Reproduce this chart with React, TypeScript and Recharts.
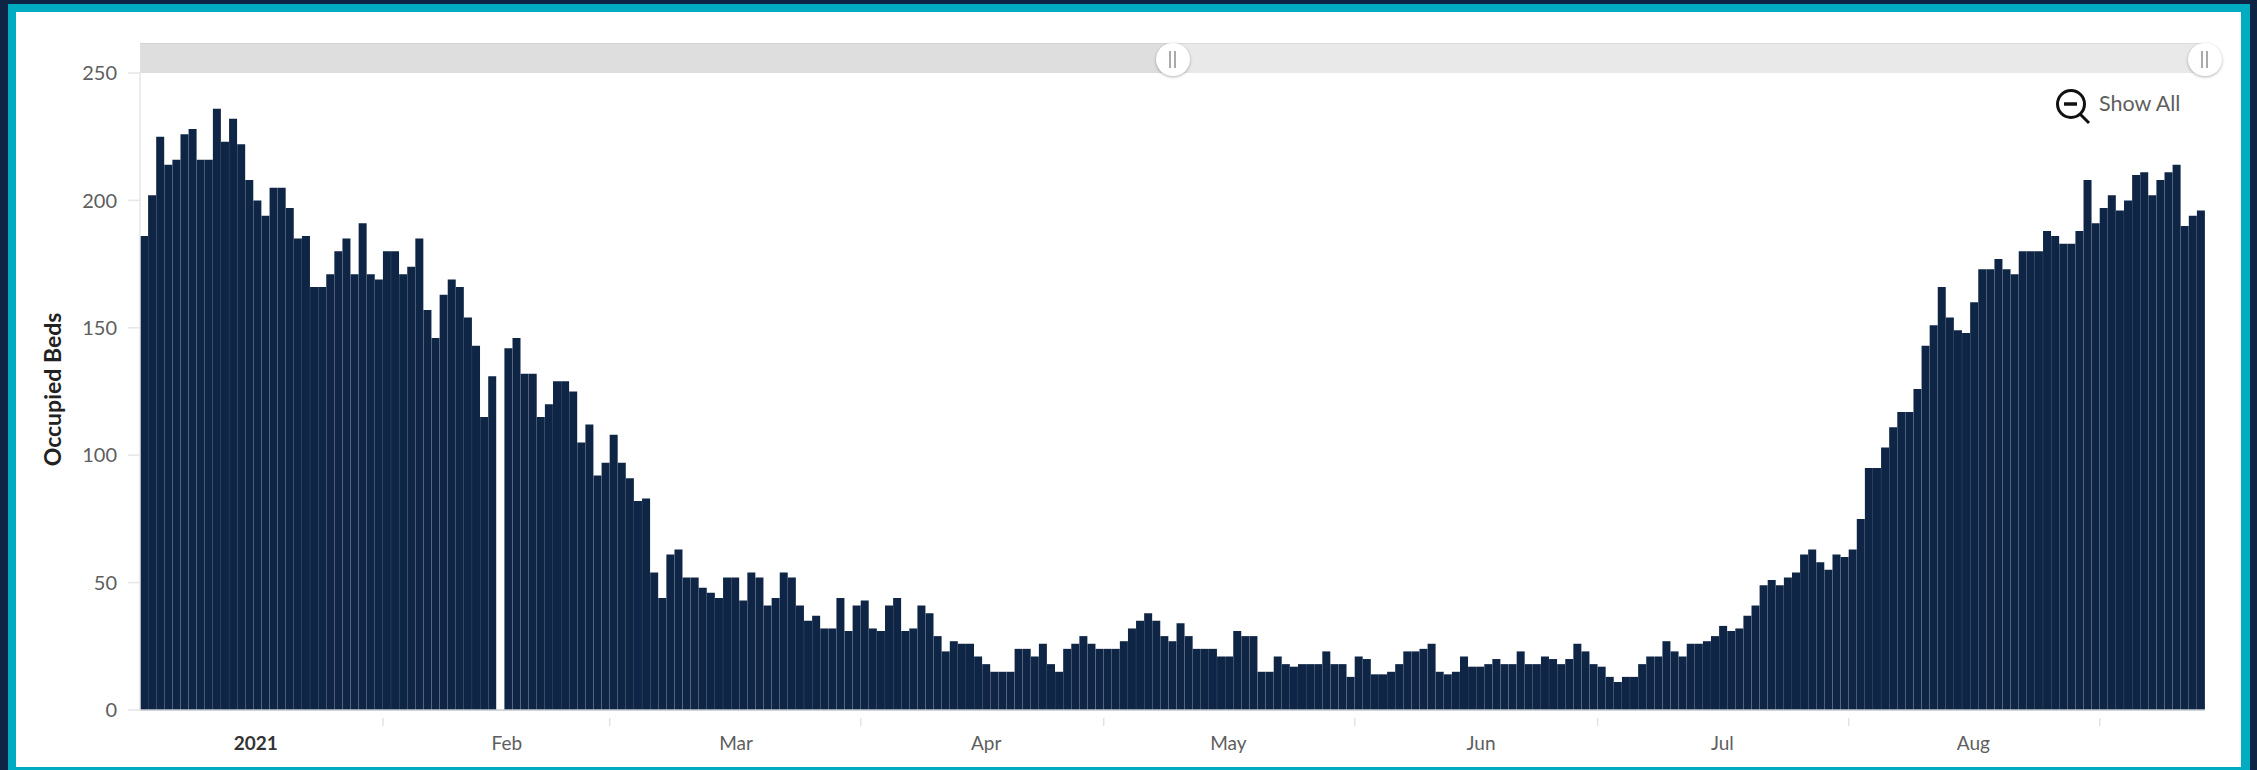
import React from 'react';
import { BarChart, Bar, XAxis, YAxis } from 'recharts';

// daily occupied beds, first bar is 2 Jan 2021 (null = no report that day)
const occupiedBeds = [
  186, 202, 225, 214, 216, 226, 228, 216, 216, 236,
  223, 232, 222, 208, 200, 194, 205, 205, 197, 185,
  186, 166, 166, 171, 180, 185, 171, 191, 171, 169,
  180, 180, 171, 174, 185, 157, 146, 163, 169, 166,
  154, 143, 115, 131, null, 142, 146, 132, 132, 115,
  120, 129, 129, 125, 105, 112, 92, 97, 108, 97,
  91, 82, 83, 54, 44, 61, 63, 52, 52, 48,
  46, 44, 52, 52, 43, 54, 52, 41, 44, 54,
  52, 41, 35, 37, 32, 32, 44, 31, 41, 43,
  32, 31, 41, 44, 31, 32, 41, 38, 29, 23,
  27, 26, 26, 21, 18, 15, 15, 15, 24, 24,
  21, 26, 18, 15, 24, 26, 29, 26, 24, 24,
  24, 27, 32, 35, 38, 35, 29, 27, 34, 29,
  24, 24, 24, 21, 21, 31, 29, 29, 15, 15,
  21, 18, 17, 18, 18, 18, 23, 18, 18, 13,
  21, 20, 14, 14, 15, 18, 23, 23, 24, 26,
  15, 14, 15, 21, 17, 17, 18, 20, 18, 18,
  23, 18, 18, 21, 20, 18, 20, 26, 23, 18,
  17, 13, 11, 13, 13, 18, 21, 21, 27, 23,
  21, 26, 26, 27, 29, 33, 31, 32, 37, 41,
  49, 51, 49, 52, 54, 61, 63, 58, 55, 61,
  60, 63, 75, 95, 95, 103, 111, 117, 117, 126,
  143, 151, 166, 154, 149, 148, 160, 173, 173, 177,
  173, 171, 180, 180, 180, 188, 186, 183, 183, 188,
  208, 191, 197, 202, 196, 200, 210, 211, 202, 208,
  211, 214, 190, 194, 196,
];

const yTicks = [0, 50, 100, 150, 200, 250];
const monthStarts = [30, 58, 89, 119, 150, 180, 211, 242];
const monthLabels = ['2021', 'Feb', 'Mar', 'Apr', 'May', 'Jun', 'Jul', 'Aug'];
const monthLabelDays = [14.3, 45.3, 73.6, 104.5, 134.4, 165.6, 195.4, 226.4];

const data = occupiedBeds.map((beds, i) => ({ day: i + 0.5, beds }));

const NAVY = '#0f2545';
const FONT = 'Lato, sans-serif';

function MonthTick({ x, y, payload }: any) {
  const labelAt = monthLabelDays.indexOf(payload.value);
  if (labelAt < 0) {
    return <line x1={x} x2={x} y1={y} y2={y + 8} stroke="#e2e2e2" strokeWidth={1.5} />;
  }
  const label = monthLabels[labelAt];
  return (
    <text
      x={x}
      y={y + 32}
      textAnchor="middle"
      fontFamily={FONT}
      fontSize={19}
      fontWeight={label === '2021' ? 700 : 400}
      fill={label === '2021' ? '#333' : '#5e5e5e'}
    >
      {label}
    </text>
  );
}

function Handle({ left }: { left: number }) {
  return (
    <div
      style={{
        position: 'absolute',
        left: left - 17,
        top: 43,
        width: 34,
        height: 33,
        borderRadius: 17,
        background: '#fff',
        boxShadow: '0 1px 3px rgba(0,0,0,0.3)',
      }}
    >
      <div style={{ position: 'absolute', left: 13, top: 8, width: 1.5, height: 17, background: '#aaa' }} />
      <div style={{ position: 'absolute', left: 18, top: 8, width: 1.5, height: 17, background: '#aaa' }} />
    </div>
  );
}

export default function App() {
  return (
    <div style={{ position: 'absolute', left: 0, top: 0, width: 2257, height: 770, background: NAVY, overflow: 'hidden' }}>
      <div style={{ position: 'absolute', left: 8, top: 4, width: 2242, height: 766, background: '#00acc1' }} />
      <div style={{ position: 'absolute', left: 16, top: 12, width: 2225, height: 755, background: '#fff' }} />

      <div style={{ position: 'absolute', left: 0, top: 0 }}>
        <BarChart
          width={2257}
          height={770}
          data={data}
          margin={{ top: 73, right: 52, bottom: 0, left: 40 }}
        >
          <XAxis
            type="number"
            dataKey="day"
            domain={[0, 255]}
            ticks={[...monthStarts, ...monthLabelDays]}
            interval={0}
            height={60}
            axisLine={{ stroke: '#c4c8cf', strokeWidth: 1.5 }}
            tickLine={false}
            tick={<MonthTick />}
          />
          <YAxis
            width={100}
            domain={[0, 250]}
            ticks={yTicks}
            axisLine={{ stroke: '#e6e6e6', strokeWidth: 1.5 }}
            tickLine={{ stroke: '#e6e6e6', strokeWidth: 1.5 }}
            tickSize={12}
            tick={{ fontFamily: FONT, fontSize: 20, fill: '#5e5e5e' }}
            tickMargin={11}
            label={{
              value: 'Occupied Beds',
              angle: -90,
              position: 'center',
              dx: -37,
              dy: -2,
              fontFamily: FONT,
              fontSize: 23,
              fontWeight: 700,
              fill: '#222',
            }}
          />
          <Bar dataKey="beds" fill={NAVY} barSize={8} isAnimationActive={false} />
        </BarChart>
      </div>

      {/* range slider above the plot */}
      <div style={{ position: 'absolute', left: 140, top: 43, width: 1033, height: 30, background: '#dedede', borderTop: '1px solid #d4d4d4', boxSizing: 'border-box' }} />
      <div style={{ position: 'absolute', left: 1173, top: 43, width: 1032, height: 30, background: '#e9e9e9', borderTop: '1px solid #dcdcdc', boxSizing: 'border-box' }} />
      <Handle left={1173} />
      <Handle left={2205} />

      {/* show all control */}
      <svg style={{ position: 'absolute', left: 2050, top: 85 }} width={44} height={42}>
        <circle cx={21} cy={19} r={13.5} fill="none" stroke="#111" strokeWidth={3} />
        <line x1={14} x2={27} y1={19} y2={19} stroke="#111" strokeWidth={3.5} />
        <line x1={30} x2={39} y1={29} y2={38} stroke="#111" strokeWidth={3} />
      </svg>
      <div style={{ position: 'absolute', left: 2099, top: 91, fontFamily: FONT, fontSize: 21.5, lineHeight: '24px', color: '#5e5e5e', whiteSpace: 'nowrap' }}>
        Show All
      </div>
    </div>
  );
}
